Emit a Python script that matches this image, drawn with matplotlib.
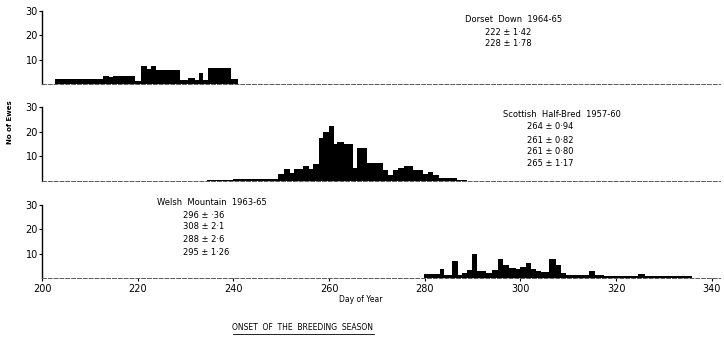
import matplotlib.pyplot as plt
import numpy as np

# step edges (day of year) and number of ewes
dorset_edges = [202.7, 212.8, 213.9, 214.8, 219.5, 220.6, 221.9, 222.7, 223.8, 228.9,
                230.6, 232.0, 232.8, 233.7, 234.6, 239.5, 240.9]
dorset_counts = [2.2, 3.2, 2.7, 3.4, 1.1, 7.2, 6.1, 7.4, 5.8, 1.5, 2.4, 1.5, 4.5, 1.5, 6.5, 2.2]

scottish_edges = [234.4, 240.0, 249.4, 250.5, 251.8, 252.7, 254.6, 255.7, 256.7, 257.8,
                  258.8, 259.9, 261.0, 261.7, 263.1, 265.0, 265.9, 268.0, 271.2, 272.4,
                  273.3, 274.5, 275.7, 277.6, 279.6, 280.6, 281.8, 283.0, 286.7, 288.8]
scottish_counts = [0.6, 0.8, 3.0, 4.8, 3.4, 5.0, 6.0, 5.0, 6.8, 17.3, 20.0, 22.4, 15.2, 16.0,
                   15.0, 5.2, 13.2, 7.2, 4.4, 2.4, 4.4, 5.2, 6.0, 4.4, 2.7, 3.7, 2.4, 1.1, 0.3]

welsh_edges = [279.8, 283.1, 284.0, 285.6, 287.0, 287.8, 288.9, 289.9, 291.0, 292.7,
               294.1, 295.2, 296.3, 297.6, 299.0, 300.0, 301.1, 302.3, 303.3, 304.2,
               306.0, 307.4, 308.4, 309.5, 314.4, 315.6, 317.5, 324.6, 326.0, 335.9]
welsh_counts = [1.8, 3.9, 1.4, 7.0, 1.1, 2.0, 3.2, 9.7, 2.9, 2.0, 3.2, 8.0, 5.3, 4.3, 3.5,
                4.6, 6.0, 3.9, 2.9, 2.5, 7.8, 5.3, 2.0, 1.1, 2.9, 1.1, 0.7, 1.8, 0.7]

titles = ['Dorset  Down  1964-65', 'Scottish  Half-Bred  1957-60', 'Welsh  Mountain  1963-65']
stats = [['222 ± 1·42', '228 ± 1·78'],
         ['264 ± 0·94', '261 ± 0·82', '261 ± 0·80', '265 ± 1·17'],
         ['296 ± ·36', '308 ± 2·1', '288 ± 2·6', '295 ± 1·26']]
x_ticks = [200, 220, 240, 260, 280, 300, 320, 340]
y_ticks = [10, 20, 30]

W, H = 724, 338
fig = plt.figure(figsize=(W / 100, H / 100), dpi=100)
plt.rcParams['font.family'] = 'DejaVu Sans'

# axes boxes in pixels: (top of 30, baseline)
panels = [(11, 84), (107, 181), (205, 278)]
data = [(dorset_edges, dorset_counts), (scottish_edges, scottish_counts), (welsh_edges, welsh_counts)]
# text placement in axes coords: title (x, y), stats x, stats y's
text_pos = [((0.624, 0.89), 0.653, [0.712, 0.548]),
            ((0.680, 0.892), 0.715, [0.73, 0.554, 0.392, 0.23]),
            ((0.170, 1.03), 0.208, [0.863, 0.699, 0.534, 0.356])]

for i, (top, base) in enumerate(panels):
    ax = fig.add_axes([42 / W, 1 - base / H, 678 / W, (base - top) / H])
    edges, counts = data[i]
    ax.stairs(counts, edges, fill=True, color='black', linewidth=0)
    ax.set_xlim(200, 341.7)
    ax.set_ylim(0, 30)
    ax.spines['top'].set_visible(False)
    ax.spines['right'].set_visible(False)
    ax.spines['left'].set_linewidth(1.0)
    ax.spines['bottom'].set_linewidth(0.7)
    ax.spines['bottom'].set_color('0.35')
    ax.spines['bottom'].set_linestyle((0, (4, 2)))
    ax.set_yticks(y_ticks)
    ax.tick_params(axis='y', labelsize=7, length=2, width=0.8, pad=1)
    if i < 2:
        ax.set_xticks([])
    else:
        ax.set_xticks(x_ticks)
        ax.tick_params(axis='x', labelsize=7, length=2, width=0.8, pad=2)
    (tx, ty), sx, sys_ = text_pos[i]
    ax.text(tx, ty, titles[i], transform=ax.transAxes, fontsize=6, va='center', ha='left')
    for s, y in zip(stats[i], sys_):
        ax.text(sx, y, s, transform=ax.transAxes, fontsize=6, va='center', ha='left')

fig.text(10 / W, 1 - 122 / H, 'No of Ewes', rotation=90, fontsize=5, fontweight='bold',
         ha='center', va='center')
fig.text(361 / W, 1 - 300 / H, 'Day of Year', fontsize=5.5, ha='center', va='center')

t = fig.text(303 / W, 1 - 328 / H, 'ONSET  OF  THE  BREEDING  SEASON', fontsize=5.5,
             ha='center', va='center')
# underline the caption
fig.canvas.draw()
bb = t.get_window_extent()
fig.add_artist(plt.Line2D([bb.x0 / W, bb.x1 / W], [(bb.y0 - 1) / H, (bb.y0 - 1) / H],
                          transform=fig.transFigure, color='black', linewidth=0.6))

plt.savefig('out.png', dpi=100)
